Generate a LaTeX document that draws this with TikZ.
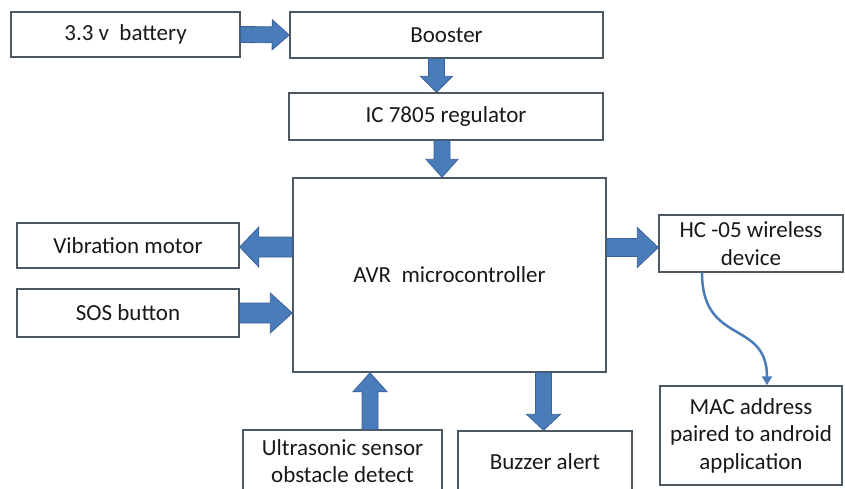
\documentclass[tikz,border=0pt]{standalone}
\usepackage{fontspec}
\setmainfont{Carlito}
\usetikzlibrary{calc,arrows.meta}
\definecolor{boxline}{RGB}{78,88,98}
\definecolor{arrfill}{RGB}{74,124,186}
\definecolor{arrline}{RGB}{58,98,155}
\definecolor{txt}{RGB}{25,25,25}
\tikzset{
  bas/.store in=\bas, bah/.store in=\bah, bal/.store in=\bal,
  bas=8, bah=16, bal=17,
  blk/.style={draw=boxline, line width=1.5pt, fill=white, text=txt, inner sep=0pt,
    align=center, font=\fontsize{23}{27.5}\selectfont},
  barrow/.style={draw=arrline, fill=arrfill, line width=0.8pt, line join=miter,
    to path={let \p1=(\tikztostart), \p2=(\tikztotarget),
      \n1={atan2(\y2-\y1,\x2-\x1)}, \n2={veclen(\x2-\x1,\y2-\y1)} in
      {[shift={(\p1)}, rotate=\n1]
      (0,\bas) -- (\n2-\bal,\bas) -- (\n2-\bal,\bah) -- (\n2,0)
      -- (\n2-\bal,-\bah) -- (\n2-\bal,-\bas) -- (0,-\bas) -- cycle}}},
  bigarrow/.style={barrow, bas=10, bah=20, bal=20},
  curvearrow/.style={draw=arrfill, line width=2.5pt,
    -{Triangle[length=9pt,width=10pt]}}
}
\begin{document}
\begin{tikzpicture}[x=1pt,y=-1pt]
\clip (0,0) rectangle (845,488);
\fill[white] (0,0) rectangle (845,488);
% boxes
\node[blk, minimum width=229pt, minimum height=45pt] (bat) at (125.5,34.5) {3.3 v~ battery};
\node[blk, minimum width=313pt, minimum height=46pt] (boost) at (446.5,35) {Booster};
\node[blk, minimum width=314pt, minimum height=47pt] (ic) at (446,116.5) {IC 7805 regulator};
\node[blk, minimum width=313pt, minimum height=194pt] (avr) at (449.5,275) {AVR~ microcontroller};
\node[blk, minimum width=222pt, minimum height=45pt] (vib) at (128,245.5) {Vibration motor};
\node[blk, minimum width=222pt, minimum height=48pt] (sos) at (128,313) {SOS button};
\node[blk, minimum width=184pt, minimum height=57pt] (hc) at (751,243.5) {HC -05 wireless\\device};
\node[blk, minimum width=182pt, minimum height=99pt] (mac) at (751,435.5) {MAC address\\paired to android\\application};
\node[blk, minimum width=199pt, minimum height=62pt] (ultra) at (342.5,461) {Ultrasonic sensor\\obstacle detect};
\node[blk, minimum width=174pt, minimum height=62pt] (buzz) at (545,462) {Buzzer alert};
% connector end points
\coordinate (b1) at ($(boost.south)+(-10,0)$);
\coordinate (b2) at (ic.north -| b1);
\coordinate (r1) at ($(ic.south)+(-4,0)$);
\coordinate (r2) at (avr.north -| r1);
\coordinate (v1) at ($(vib.east)+(0,1.5)$);
\coordinate (v0) at (avr.west |- v1);
\coordinate (h1) at ($(hc.west)+(0,4)$);
\coordinate (h0) at (avr.east |- h1);
\coordinate (u1) at ($(ultra.north)+(27.5,0)$);
\coordinate (u2) at (avr.south -| u1);
\coordinate (z1) at ($(buzz.north)+(-1.5,0)$);
\coordinate (z0) at (avr.south -| z1);
\coordinate (s2) at (avr.west |- sos.east);
\coordinate (c1) at ($(hc.south)+(-49,0)$);
\coordinate (c2) at ($(mac.north)+(16,0)$);
% block arrows
\draw[barrow, bah=15] (bat.east) to (boost.west);
\draw[barrow, bal=16] (b1) to (b2);
\draw[barrow, bal=18] (r1) to (r2);
\draw[bigarrow, bal=19] (v0) to (v1);
\draw[bigarrow, bal=22] (sos.east) to (s2);
\draw[bigarrow, bas=9, bal=21] (h0) to (h1);
\draw[barrow, bah=17, bal=19] (u1) to (u2);
\draw[barrow, bah=17, bal=16] (z0) to (z1);
% curved connector
\draw[curvearrow] (c1) .. controls ($(c1)+(0,73)$) and ($(c2)+(0,-66)$) .. (c2);
\end{tikzpicture}
\end{document}
